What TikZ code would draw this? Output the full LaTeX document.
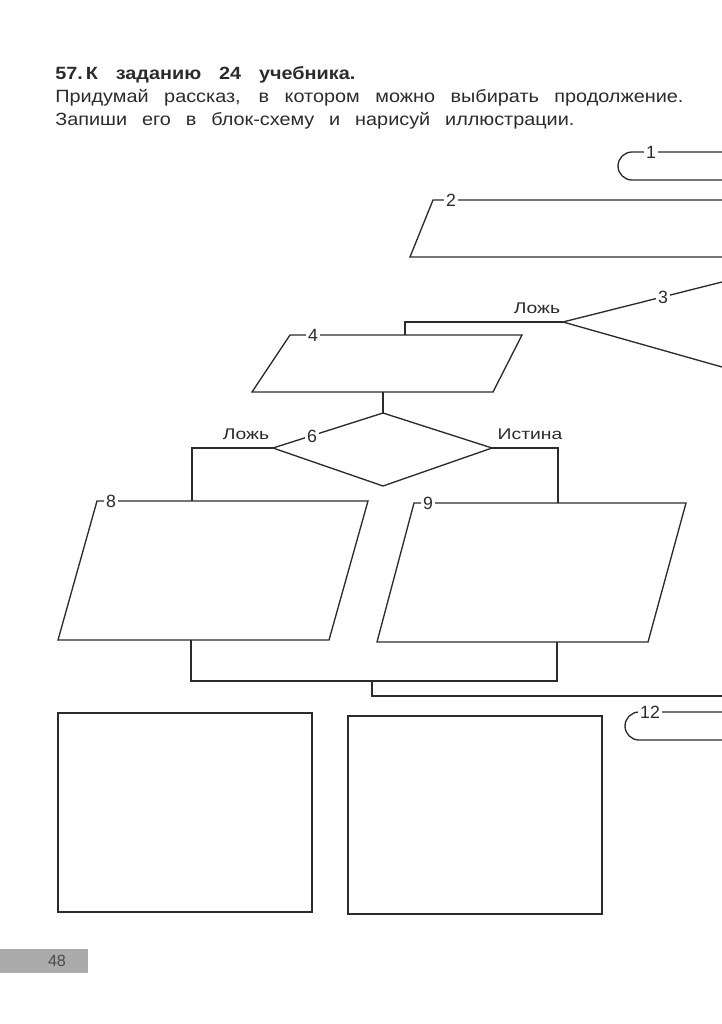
\documentclass[tikz,border=0pt]{standalone}
\usepackage{fontspec}
\setmainfont{Liberation Sans}
\newfontfamily\bodyfont[FakeStretch=1.12]{Liberation Sans}
\newfontfamily\labelfont[FakeStretch=1.25]{Liberation Sans}
\definecolor{ink}{HTML}{2B2B2B}
\definecolor{tabgray}{HTML}{ABABAB}
\tikzset{
  blk/.style={draw=ink, line width=0.95pt, line join=miter},
  num/.style={fill=white, inner sep=1.5pt, text=ink, font=\fontsize{12.6pt}{13pt}\selectfont},
  word/.style={text=ink, inner sep=0pt, anchor=base, font=\labelfont\fontsize{11pt}{12pt}\selectfont},
  txt/.style={text=ink, inner sep=0pt, anchor=base west, font=\bodyfont\fontsize{12.6pt}{14pt}\selectfont},
}
\begin{document}
\begin{tikzpicture}[x=0.025cm, y=-0.025cm]
  \useasboundingbox (0,0) rectangle (722,1024);

  \node[txt] (head) at (55,80) {\makebox[7.5cm][s]{\bfseries 57.\,К заданию 24 учебника.}};
  \node[txt] (row1) at (55,103) {\makebox[15.7cm][s]{Придумай рассказ, в котором можно выбирать продолжение.}};
  \node[txt] (row2) at (55,126) {\makebox[12.975cm][s]{Запиши его в блок-схему и нарисуй иллюстрации.}};

  \draw[blk] (722,152) -- (632,152) arc[start angle=270, end angle=90, radius=14] -- (722,180);
  \node[num] (n1) at (651,152) {1};

  \draw[blk] (722,200) -- (433,200) -- (410,257) -- (722,257);
  \node[num] (n2) at (451,200) {2};

  \coordinate (d3w) at (563,322);
  \draw[blk] (722,282) -- (d3w) -- (722,367);
  \node[num] (n3) at (663,297) {3};
  \node[word] (f3) at (537,313) {Ложь};

  \coordinate (p4n) at (405,335);
  \coordinate (p4s) at (383,392);
  \draw[blk] (290,335) -- (522,335) -- (493,392) -- (252,392) -- cycle;
  \node[num] (n4) at (313,335) {4};
  \draw[blk] (d3w) -| (p4n);

  \coordinate (d6n) at (383,413);
  \coordinate (d6e) at (492,448);
  \coordinate (d6s) at (383,486);
  \coordinate (d6w) at (273,448);
  \draw[blk] (d6n) -- (d6e) -- (d6s) -- (d6w) -- cycle;
  \node[num] (n6) at (312,436) {6};
  \node[word] (f6) at (246,439) {Ложь};
  \node[word] (t6) at (530,439) {Истина};
  \draw[blk] (p4s) -- (d6n);

  \coordinate (p8n) at (192,501);
  \coordinate (p8s) at (191,640);
  \draw[blk] (97,501) -- (368,501) -- (329,640) -- (58,640) -- cycle;
  \node[num] (n8) at (111,501) {8};

  \coordinate (p9n) at (558,503);
  \coordinate (p9s) at (557,642);
  \draw[blk] (414,503) -- (686,503) -- (648,642) -- (377,642) -- cycle;
  \node[num] (n9) at (428,503) {9};

  \draw[blk] (d6w) -| (p8n);
  \draw[blk] (d6e) -| (p9n);

  \coordinate (mrg) at (372,681);
  \coordinate (out) at (722,696);
  \draw[blk] (p8s) |- (mrg) -| (p9s);
  \draw[blk] (mrg) |- (out);

  \draw[blk] (722,712) -- (639,712) arc[start angle=270, end angle=90, radius=14] -- (722,740);
  \node[num] (n12) at (650,712) {12};

  \draw[blk] (58,713) rectangle (312,912);
  \draw[blk] (348,716) rectangle (602,914);

  \fill[tabgray] (0,949) rectangle (88,973);
  \node[text=ink!85, font=\fontsize{11.5pt}{12pt}\selectfont] (page) at (57,961) {48};
\end{tikzpicture}
\end{document}
